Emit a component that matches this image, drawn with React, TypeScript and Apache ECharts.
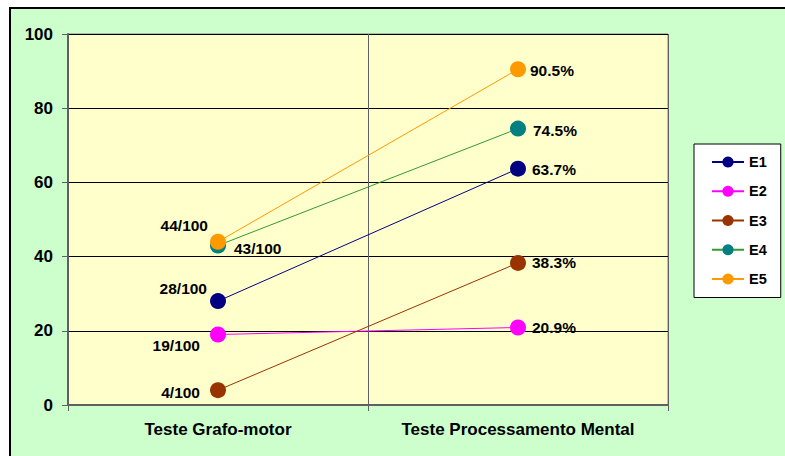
import React, { useEffect, useRef } from "react";
import * as echarts from "echarts";

const categories = ["Teste Grafo-motor", "Teste Processamento Mental"];
const seriesNames = ["E1", "E2", "E3", "E4", "E5"];
const E1 = [28, 63.7];
const E2 = [19, 20.9];
const E3 = [4, 38.3];
const E4 = [43, 74.5];
const E5 = [44, 90.5];
const yTicks = [0, 20, 40, 60, 80, 100];

const FONT = "Arial, 'Liberation Sans', sans-serif";

export default function App() {
  const ref = useRef<HTMLDivElement>(null);
  useEffect(() => {
    if (!ref.current) return;
    const chart = echarts.init(ref.current, undefined, { renderer: "svg" });
    const lbl = (pos: string, dist: number, off: number[]) => ({
      show: true,
      position: pos,
      distance: dist,
      offset: off,
      color: "#000",
      fontWeight: "bold",
      fontSize: 15.5,
      fontFamily: FONT,
    });
    const mk = (
      name: string,
      vals: number[],
      lineColor: string,
      markerColor: string,
      firstLabel: any,
      secondLabel: any
    ) => ({
      name,
      type: "line",
      data: [
        { value: vals[0], label: { ...firstLabel, formatter: () => `${vals[0]}/100` } },
        { value: vals[1], label: { ...secondLabel, formatter: () => `${vals[1].toFixed(1)}%` } },
      ],
      symbol: "circle",
      symbolSize: 16,
      lineStyle: { color: lineColor, width: 1 },
      itemStyle: { color: markerColor },
      emphasis: { disabled: true },
    });
    chart.setOption({
      animation: false,
      graphic: [
        {
          type: "rect",
          z: -10,
          shape: { x: 10, y: 8, width: 800, height: 470 },
          style: { fill: "#CCFFCC", stroke: "#000", lineWidth: 2 },
        },
      ],
      grid: {
        left: 68,
        top: 34,
        right: 117,
        bottom: 51,
        show: true,
        backgroundColor: "#FFFFCC",
        borderColor: "#808080",
        borderWidth: 1,
      },
      legend: {
        orient: "vertical",
        left: 694,
        top: 144,
        padding: [10.5, 14, 11, 17],
        itemWidth: 32,
        itemHeight: 14,
        itemGap: 14.25,
        backgroundColor: "#fff",
        borderColor: "#000",
        borderWidth: 1,
        data: seriesNames,
        textStyle: { fontWeight: "bold", fontSize: 14.5, fontFamily: FONT, color: "#000" },
      },
      xAxis: {
        type: "category",
        data: categories,
        boundaryGap: true,
        axisLine: { lineStyle: { color: "#606060", width: 2 } },
        axisTick: { show: true, length: 6, lineStyle: { color: "#606060" } },
        splitLine: { show: true, interval: 0, lineStyle: { color: "#606060", width: 1 } },
        axisLabel: {
          interval: 0,
          margin: 16,
          color: "#000",
          fontWeight: "bold",
          fontSize: 17,
          fontFamily: FONT,
        },
      },
      yAxis: {
        type: "value",
        min: yTicks[0],
        max: yTicks[yTicks.length - 1],
        interval: 20,
        axisLine: { show: true, lineStyle: { color: "#606060", width: 2 } },
        axisTick: { show: true, length: 6, lineStyle: { color: "#606060" } },
        splitLine: { show: true, lineStyle: { color: "#000", width: 1 } },
        axisLabel: { margin: 15, color: "#000", fontWeight: "bold", fontSize: 17, fontFamily: FONT },
      },
      series: [
        mk("E1", E1, "#000080", "#000080", lbl("left", 3, [0, -12.5]), lbl("right", 6, [0, 1])),
        mk("E2", E2, "#FF00FF", "#FF00FF", lbl("left", 10, [0, 10.5]), lbl("right", 6, [0, 0])),
        mk("E3", E3, "#993300", "#993300", lbl("left", 10, [0, 2]), lbl("right", 6, [0, 0])),
        mk("E4", E4, "#339933", "#008080", lbl("right", 8, [0, 3]), lbl("right", 7, [0, 1.5])),
        mk("E5", E5, "#FF9900", "#FF9900", lbl("left", 2, [0, -16]), lbl("right", 4, [0, 1])),
      ],
    });
    return () => chart.dispose();
  }, []);
  return (
    <div
      ref={ref}
      style={{ position: "absolute", left: 0, top: 0, width: 785, height: 456, background: "#fff" }}
    />
  );
}
